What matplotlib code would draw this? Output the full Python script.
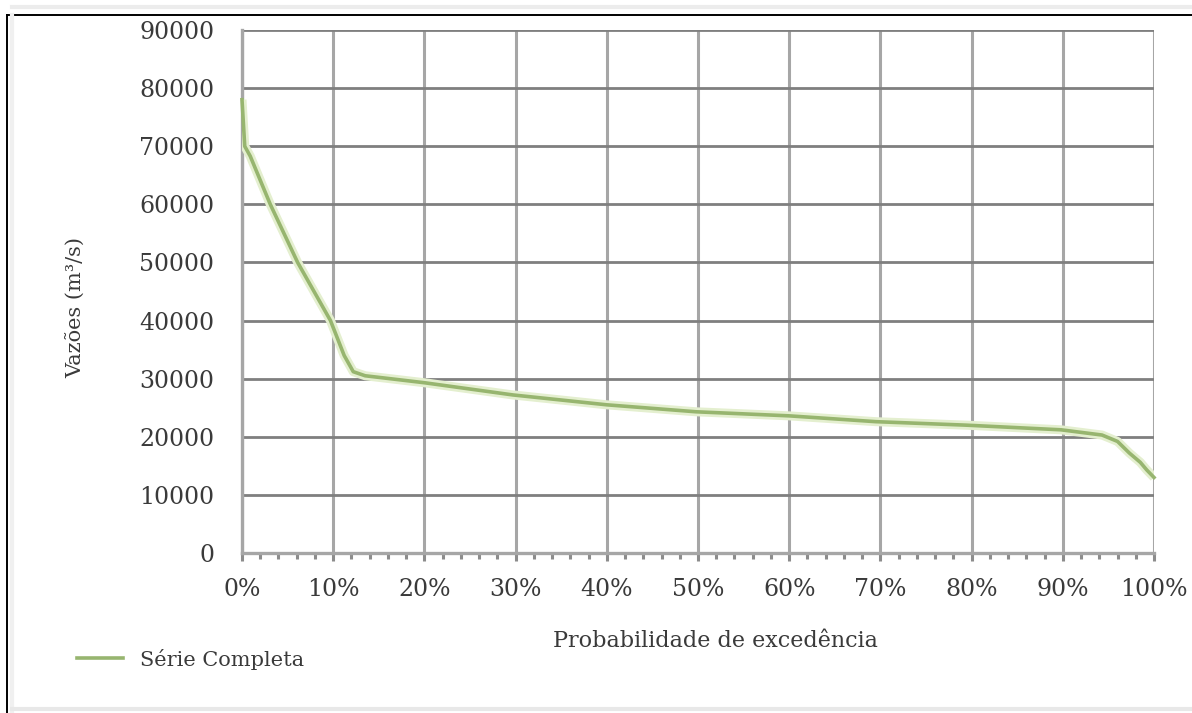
import matplotlib
matplotlib.use("Agg")
import matplotlib.pyplot as plt
from matplotlib.lines import Line2D
from matplotlib.ticker import MultipleLocator, PercentFormatter

# Flow duration curve: exceedance probability (fraction) vs. discharge (m³/s)
prob = [0.000, 0.003, 0.009, 0.031, 0.061, 0.097, 0.112, 0.122, 0.135,
        0.173, 0.200, 0.297, 0.400, 0.498, 0.600, 0.695, 0.794, 0.898,
        0.943, 0.960, 0.973, 0.985, 0.992, 1.000]
flow = [78000, 70000, 68300, 60000, 50000, 40000, 34000, 31200, 30500,
        29800, 29300, 27200, 25500, 24300, 23600, 22600, 22000, 21200,
        20300, 19200, 17200, 15600, 14300, 13000]

series_name = "Série Completa"
x_title = "Probabilidade de excedência"
y_title = "Vazões (m³/s)"

W, H = 1192, 713
fig = plt.figure(figsize=(W / 100, H / 100), dpi=100)
fig.patch.set_facecolor("white")

font = ["DejaVu Serif"]
txt_color = "#3a3a3a"

# frame around the chart area
fig.add_artist(Line2D([7 / W, 1], [1 - 15 / H, 1 - 15 / H], color="black", lw=1.4,
                      transform=fig.transFigure))
fig.add_artist(Line2D([7 / W, 7 / W], [0, 1 - 15 / H], color="black", lw=1.4,
                      transform=fig.transFigure))
fig.add_artist(Line2D([12 / W, 1], [1 - 7 / H, 1 - 7 / H], color="#ececec", lw=3,
                      transform=fig.transFigure))
fig.add_artist(Line2D([12 / W, 12 / W], [0, 1 - 15 / H], color="#f0f0f0", lw=3,
                      transform=fig.transFigure))
fig.add_artist(Line2D([12 / W, 1], [1 - 709 / H, 1 - 709 / H], color="#e8e8e8", lw=3,
                      transform=fig.transFigure))

left, right, top, bottom = 242, 1154, 30, 553
ax = fig.add_axes([left / W, 1 - bottom / H, (right - left) / W, (bottom - top) / H])
ax.set_xlim(0, 1)
ax.set_ylim(0, 90000)

ax.xaxis.set_major_locator(MultipleLocator(0.1))
ax.xaxis.set_minor_locator(MultipleLocator(0.02))
ax.xaxis.set_major_formatter(PercentFormatter(1.0, decimals=0))
ax.yaxis.set_major_locator(MultipleLocator(10000))

ax.grid(axis="y", which="major", color="#7f7f7f", lw=2.0)
ax.grid(axis="x", which="major", color="#a6a6a6", lw=2.2)
ax.set_axisbelow(True)

for side in ("top", "right"):
    ax.spines[side].set_visible(False)
ax.spines["left"].set_color("#a6a6a6")
ax.spines["left"].set_linewidth(2.4)
ax.spines["bottom"].set_color("#a6a6a6")
ax.spines["bottom"].set_linewidth(2.4)

ax.tick_params(axis="x", which="major", direction="out", length=6, width=2.2,
               color="#8c8c8c", pad=12, labelsize=17, labelcolor=txt_color)
ax.tick_params(axis="x", which="minor", direction="out", length=4, width=2.2,
               color="#8c8c8c")
ax.tick_params(axis="y", which="major", length=0, pad=20, labelsize=17,
               labelcolor=txt_color)
for lab in ax.get_xticklabels() + ax.get_yticklabels():
    lab.set_family(font)

# soft underlay plus the curve itself
ax.plot(prob, flow, color="#e4efcf", lw=6.5, solid_capstyle="butt", zorder=3)
ax.plot(prob, flow, color="#97b56f", lw=2.6, zorder=4, clip_on=False)

fig.text(715 / W, 1 - 641 / H, x_title, ha="center", va="center", fontsize=16,
         family=font, color=txt_color)
fig.text(75 / W, 1 - 307 / H, y_title, ha="center", va="center", rotation=90,
         fontsize=15, family=font, color=txt_color)

handle = Line2D([], [], color="#97b56f", lw=2.6)
fig.legend([handle], [series_name], loc="center left",
           bbox_to_anchor=(77 / W, 1 - 659 / H), frameon=False, borderpad=0,
           borderaxespad=0, handlelength=2.2, handletextpad=0.8,
           prop={"family": font, "size": 15}, labelcolor=txt_color)

fig.savefig("out.png", dpi=100, facecolor="white")
